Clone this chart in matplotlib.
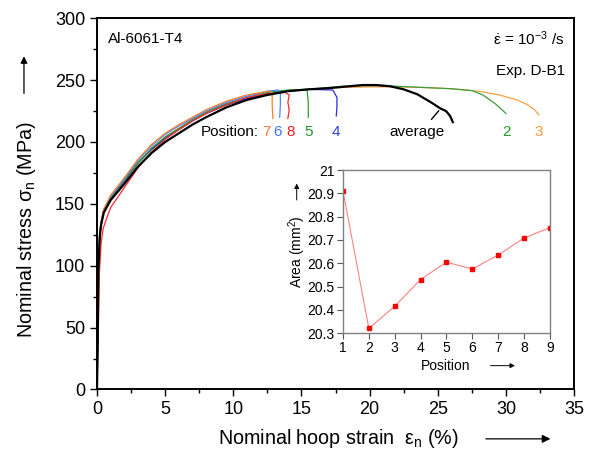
import matplotlib
matplotlib.use("Agg")
import matplotlib.pyplot as plt
from matplotlib.ticker import MultipleLocator, FuncFormatter

plt.rcParams["font.family"] = ["Liberation Sans", "DejaVu Sans"]
plt.rcParams["mathtext.fontset"] = "custom"
plt.rcParams["mathtext.rm"] = "Liberation Sans"
plt.rcParams["mathtext.it"] = "Liberation Sans:italic"
plt.rcParams["mathtext.bf"] = "Liberation Sans:bold"

# stress-strain curves (strain in %, stress in MPa)
avg_strain = [0, 0.05, 0.1, 0.2, 0.3, 0.5, 1.0, 2.0, 3.0, 4.0, 5.0, 6.0, 7.0, 8.0,
              9.5, 11.0, 12.5, 14.0, 15.5, 17.0, 18.5, 19.5, 20.5, 21.5, 22.5,
              23.5, 24.5, 25.2, 25.6, 25.9, 26.1]
avg_stress = [0, 35, 95, 123, 133, 143, 153, 166, 180, 191, 200, 207, 214, 220,
              228, 234, 238, 241, 242.5, 243.5, 245, 246, 246, 245, 242.5,
              238.5, 232, 227, 225, 221, 216]

p7_strain = [0, 0.05, 0.12, 0.2, 0.3, 0.5, 1, 2, 3, 4, 5, 6, 7, 8, 9.5, 11, 12, 12.6,
             12.85, 12.85, 12.9]
p7_stress = [0, 45, 100, 126, 136, 146, 157, 171, 186, 198, 207, 214, 220, 226, 233,
             238, 240, 241, 240, 230, 219]

p6_strain = [0, 0.05, 0.12, 0.2, 0.3, 0.5, 1, 2, 3, 4, 5, 6, 7, 8, 9.5, 11, 12.5, 13.3,
             13.45, 13.45, 13.4]
p6_stress = [0, 42, 98, 124, 134, 145, 156, 170, 185, 197, 206, 213, 219, 225, 232,
             237, 241, 242, 240, 230, 220]

p8_strain = [0, 0.08, 0.18, 0.3, 0.45, 0.7, 1, 2, 3, 4, 5, 6, 7, 8, 9.5, 11, 12.5,
             13.8, 14.1, 14.0, 14.1, 14.0]
p8_stress = [0, 40, 95, 118, 130, 138, 147, 163, 179, 192, 202, 210, 217, 223, 230,
             236, 239, 240, 238, 232, 226, 219]

p5_strain = [0, 0.05, 0.12, 0.2, 0.3, 0.5, 1, 2, 3, 4, 5, 6, 7, 8, 9.5, 11, 12.5, 14,
             15.4, 15.5, 15.5]
p5_stress = [0, 44, 99, 125, 135, 145, 155, 169, 183, 195, 204, 211, 218, 224, 231,
             236, 240, 242, 242.5, 232, 220]

p4_strain = [0, 0.05, 0.12, 0.2, 0.3, 0.5, 1, 2, 3, 4, 5, 6, 7, 8, 9.5, 11, 12.5, 14,
             15.5, 17.3, 17.6, 17.6, 17.55]
p4_stress = [0, 43, 98, 123, 133, 143, 154, 168, 183, 194, 203, 210, 217, 223, 230,
             235, 239, 241, 242.5, 242, 236, 228, 221]

p2_strain = [0, 0.05, 0.12, 0.2, 0.3, 0.5, 1, 2, 3, 4, 5, 6, 7, 8, 9.5, 11, 12.5, 14,
             16, 18, 20, 22, 24, 26, 27.5, 28.3, 29.2, 30.0]
p2_stress = [0, 44, 99, 125, 135, 145, 155, 169, 183, 194, 203, 210, 217, 223, 230,
             235, 239, 241, 243, 245, 245.5, 245, 244, 243, 241.5, 238, 231, 223]

p3_strain = [0, 0.05, 0.12, 0.2, 0.3, 0.5, 1, 2, 3, 4, 5, 6, 7, 8, 9.5, 11, 12.5, 14,
             16, 18, 20, 22, 24, 26, 28, 29.5, 30.8, 31.6, 32.1, 32.4]
p3_stress = [0, 43, 99, 125, 135, 145, 155, 169, 183, 195, 204, 211, 218, 224, 231,
             236, 239.5, 241.5, 243, 244, 244.5, 244.5, 244, 243, 241, 238, 234, 230,
             226, 222]

# inset: cross-section area per position
positions = [1, 2, 3, 4, 5, 6, 7, 8, 9]
areas = [20.91, 20.32, 20.415, 20.53, 20.605, 20.575, 20.635, 20.708, 20.753]

curves = [
    (p3_strain, p3_stress, "#ff9f45"),
    (p2_strain, p2_stress, "#3a9f3a"),
    (p4_strain, p4_stress, "#2b2be0"),
    (p5_strain, p5_stress, "#2e9b2e"),
    (p8_strain, p8_stress, "#ff2a2a"),
    (p6_strain, p6_stress, "#4a86ff"),
    (p7_strain, p7_stress, "#ff7f2a"),
]

fig = plt.figure(figsize=(5.95, 4.55), dpi=100)
ax = fig.add_axes([0.163, 0.144, 0.802, 0.816])

for xs, ys, c in curves:
    ax.plot(xs, ys, color=c, lw=0.9)
ax.plot(avg_strain, avg_stress, color="black", lw=1.6)

ax.set_xlim(0, 35)
ax.set_ylim(0, 300)
ax.xaxis.set_major_locator(MultipleLocator(5))
ax.xaxis.set_minor_locator(MultipleLocator(2.5))
ax.yaxis.set_major_locator(MultipleLocator(50))
ax.yaxis.set_minor_locator(MultipleLocator(25))
ax.tick_params(which="major", direction="out", length=5, width=1, labelsize=13,
               top=False, right=False)
ax.tick_params(which="minor", direction="out", length=3, width=1,
               top=False, right=False)
for sp in ax.spines.values():
    sp.set_linewidth(1.4)

ax.set_xlabel("Nominal hoop strain  ε$_\\mathregular{n}$ (%)", fontsize=14.2, va="center")
ax.xaxis.set_label_coords(0.505, -0.133)
ax.set_ylabel("Nominal stress σ$_\\mathregular{n}$ (MPa)", fontsize=14.2, va="center")
ax.yaxis.set_label_coords(-0.147, 0.43)
ax.annotate("", xy=(0.956, -0.133), xytext=(0.809, -0.133), xycoords="axes fraction",
            arrowprops=dict(arrowstyle="-|>", color="black", lw=0.9,
                            mutation_scale=12))
ax.annotate("", xy=(-0.153, 0.905), xytext=(-0.153, 0.79), xycoords="axes fraction",
            arrowprops=dict(arrowstyle="-|>", color="black", lw=0.9,
                            mutation_scale=10))

ax.text(0.022, 0.944, "Al-6061-T4", transform=ax.transAxes, fontsize=11,
        ha="left", va="center")
ax.text(0.98, 0.944, "$\\dot{\\mathregular{ε}}$ = 10$^{\\mathregular{-3}}$ /s",
        transform=ax.transAxes, fontsize=11, ha="right", va="center")
ax.text(0.98, 0.858, "Exp. D-B1", transform=ax.transAxes, fontsize=11,
        ha="right", va="center")

label_y = 208
ax.text(9.75, label_y, "Position:", fontsize=11, ha="center", va="center")
for x, t, c in [(12.4, "7", "#f57a36"), (13.25, "6", "#3c7bff"),
                (14.2, "8", "#f02020"), (15.5, "5", "#1e9a28"),
                (17.5, "4", "#2f3fe0"), (30.05, "2", "#1e9a28"),
                (32.4, "3", "#ff9a3a")]:
    ax.text(x, label_y, t, fontsize=11, color=c, ha="center", va="center")
ax.text(23.5, label_y, "average", fontsize=11, ha="center", va="center")
ax.annotate("", xy=(avg_strain[-4], avg_stress[-4]), xytext=(24.4, 216.5),
            arrowprops=dict(arrowstyle="-", color="black", lw=1.0))

# inset
axi = fig.add_axes([0.5765, 0.268, 0.3475, 0.358])
axi.plot(positions, areas, color="#ff8080", lw=0.8, marker="s", markersize=2.6,
         markerfacecolor="#ff0000", markeredgecolor="#ff0000")
axi.set_xlim(1, 9)
axi.set_ylim(20.3, 21.0)
axi.set_xticks(positions)
axi.yaxis.set_major_locator(MultipleLocator(0.1))
axi.yaxis.set_major_formatter(FuncFormatter(
    lambda v, _: "21" if abs(v - 21) < 1e-6 else f"{v:.1f}"))
axi.tick_params(direction="out", length=4, width=0.8, labelsize=10,
                color="#555555", pad=2)
for sp in axi.spines.values():
    sp.set_color("#808080")
    sp.set_linewidth(1.0)
axi.set_xlabel("Position", fontsize=10, va="center")
axi.xaxis.set_label_coords(0.497, -0.2)
axi.set_ylabel("Area (mm$^\\mathregular{2}$)", fontsize=10, va="center")
axi.yaxis.set_label_coords(-0.222, 0.5)
axi.annotate("", xy=(0.845, -0.2), xytext=(0.70, -0.2), xycoords="axes fraction",
             arrowprops=dict(arrowstyle="-|>", color="black", lw=0.7,
                             mutation_scale=7))
axi.annotate("", xy=(-0.224, 0.935), xytext=(-0.224, 0.80), xycoords="axes fraction",
             arrowprops=dict(arrowstyle="-|>", color="black", lw=0.7,
                             mutation_scale=7))

fig.savefig("out.png", dpi=100)
